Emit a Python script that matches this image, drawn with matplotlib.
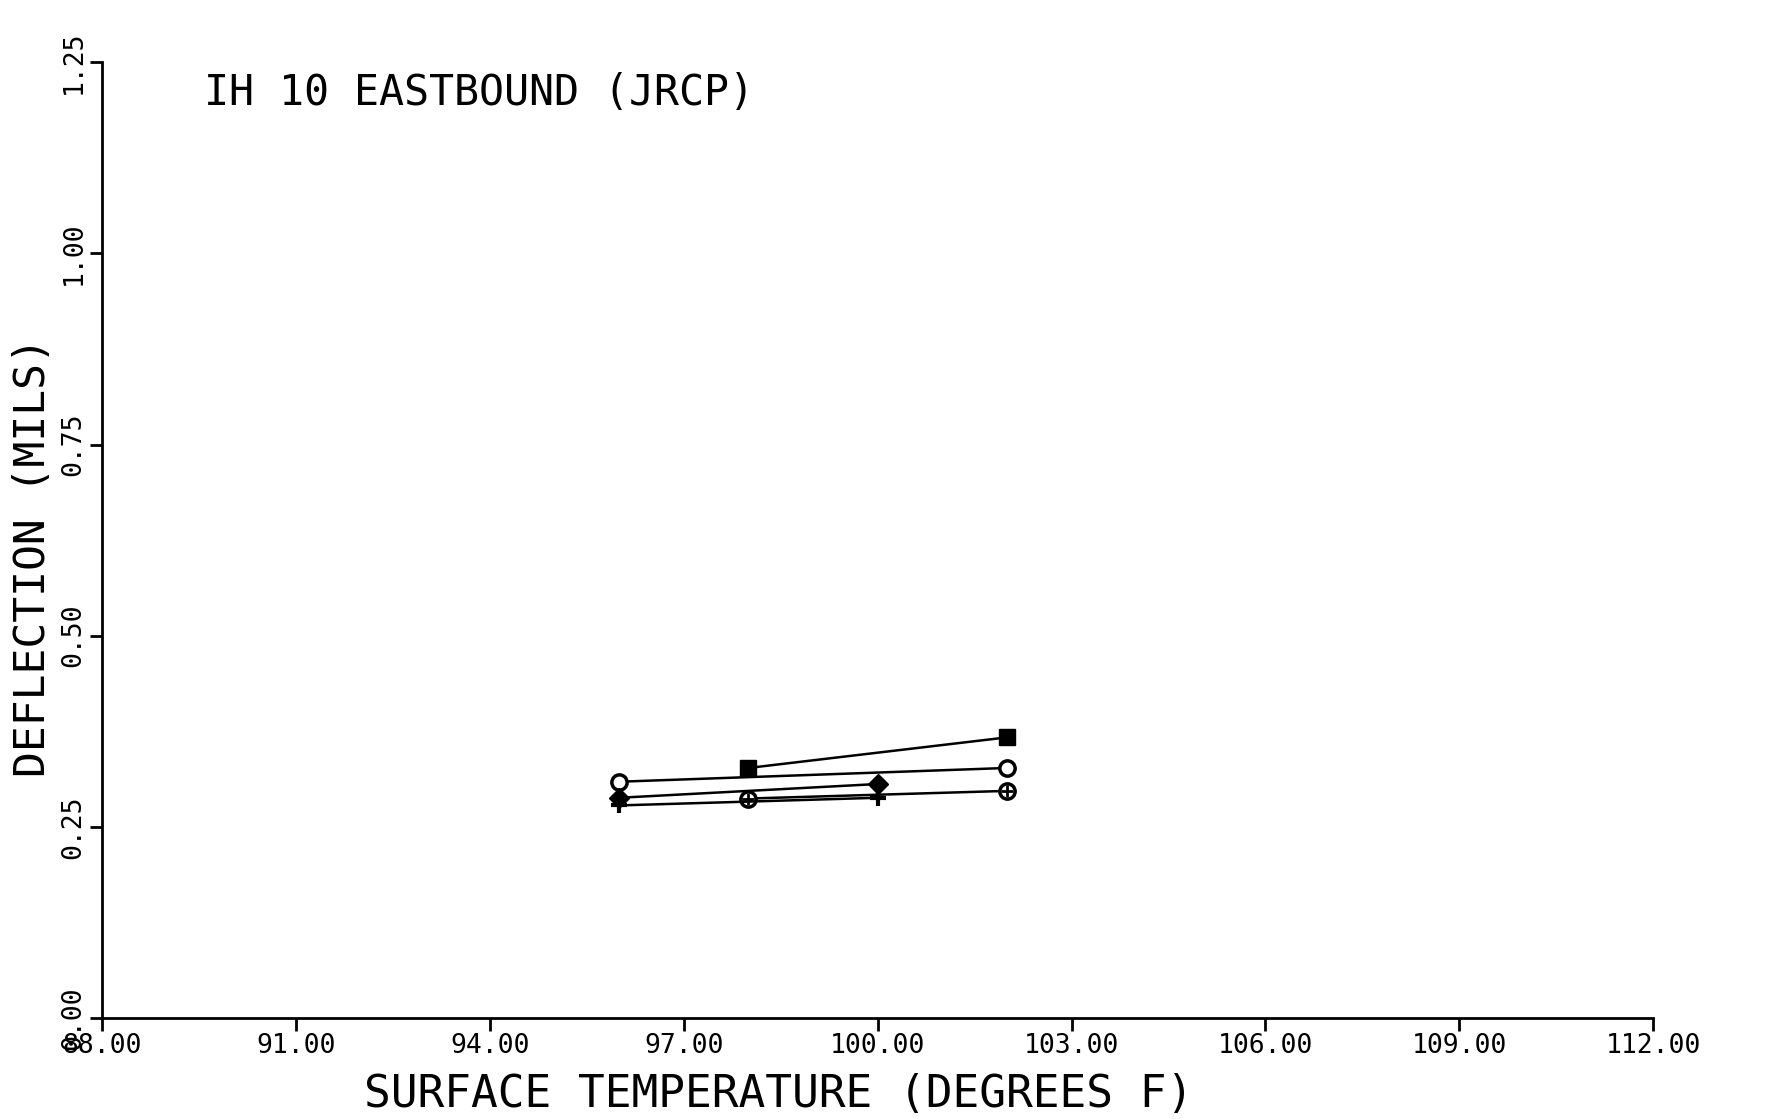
import numpy as np
import matplotlib.pyplot as plt

# values
temp_sq = [98, 102]
defl_sq = [0.327, 0.367]
temp_circ = [96, 102]
defl_circ = [0.309, 0.327]
temp_diam = [96, 100]
defl_diam = [0.288, 0.306]
temp_oplus = [98, 102]
defl_oplus = [0.287, 0.297]
temp_plus = [96, 100]
defl_plus = [0.278, 0.288]

xticks = [88, 91, 94, 97, 100, 103, 106, 109, 112]
yticks = [0.0, 0.25, 0.5, 0.75, 1.0, 1.25]

plt.rcParams['font.family'] = ['DejaVu Sans Mono']

fig = plt.figure(figsize=(17.73, 11.19), dpi=100)
ax = fig.add_axes([0.0575, 0.0903, 0.875, 0.854])

lw = 1.8
ax.plot(temp_sq, defl_sq, color='black', lw=lw, marker='s', ms=12, mfc='black', mec='black')
ax.plot(temp_circ, defl_circ, color='black', lw=lw, marker='o', ms=11, mfc='white', mec='black', mew=2.5)
ax.plot(temp_diam, defl_diam, color='black', lw=lw, marker='D', ms=10, mfc='black', mec='black')
ax.plot(temp_oplus, defl_oplus, color='black', lw=lw, marker='o', ms=11, mfc='white', mec='black', mew=2.5)
ax.plot(temp_oplus, defl_oplus, color='none', lw=0, marker='+', ms=9, mec='black', mew=2)
ax.plot(temp_plus, defl_plus, color='black', lw=lw, marker='+', ms=11, mec='black', mew=3)

ax.set_xlim(88, 112)
ax.set_ylim(0, 1.25)
ax.set_xticks(xticks)
ax.set_yticks(yticks)
ax.set_xticklabels(['%.2f' % t for t in xticks], fontsize=19)
ax.set_yticklabels(['%.2f' % t for t in yticks], fontsize=19, rotation=90, va='center')

ax.spines['top'].set_visible(False)
ax.spines['right'].set_visible(False)
ax.spines['left'].set_linewidth(2)
ax.spines['bottom'].set_linewidth(2)
ax.tick_params(axis='x', direction='out', length=9, width=2, pad=2)
ax.tick_params(axis='y', direction='out', length=9, width=2, pad=2)

ax.set_xlabel('SURFACE TEMPERATURE (DEGREES F)', fontsize=32, labelpad=4)
ax.xaxis.set_label_coords(0.436, -0.058)
ax.set_ylabel('DEFLECTION (MILS)', fontsize=31)
ax.yaxis.set_label_coords(-0.031, 0.482)
ax.text(0.066, 0.968, 'IH 10 EASTBOUND (JRCP)', transform=ax.transAxes, fontsize=30, va='center', ha='left')

fig.savefig('out.png', dpi=100)
